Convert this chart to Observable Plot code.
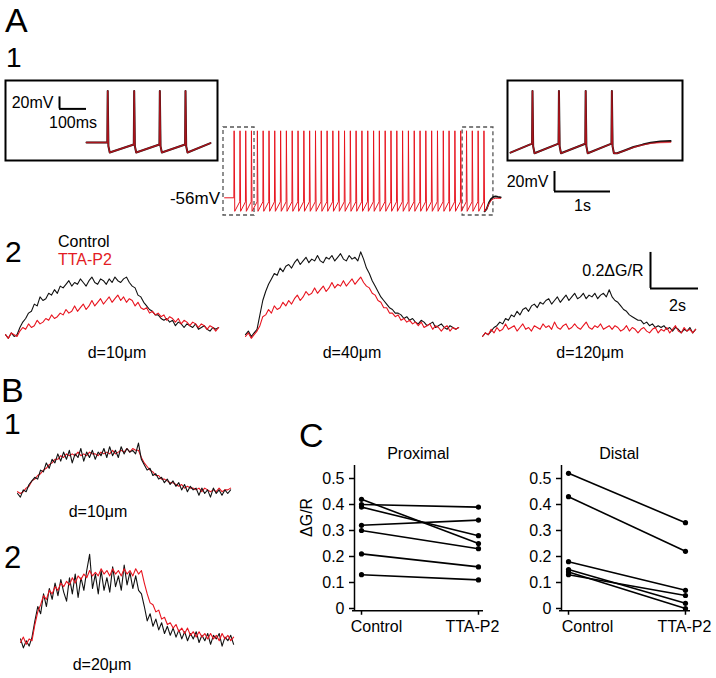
<!DOCTYPE html>
<html><head><meta charset="utf-8">
<script src="https://cdn.jsdelivr.net/npm/d3@7"></script>
<script src="https://cdn.jsdelivr.net/npm/@observablehq/plot@0.6"></script>
<style>
body{margin:0;background:#fff;}
#fig{position:relative;width:716px;height:678px;overflow:hidden;background:#fff;font-family:"Liberation Sans",Arial,sans-serif;}
</style></head><body><div id="fig"></div>
<script>
// ---------------- DATA ----------------
// A1 main spike train (time in s, voltage in mV)
const mainSpikeTimes = [0.185,0.290,0.392,0.494,0.600,0.703,0.808,0.910,1.015,1.118,1.222,1.326,1.430,1.533,1.638,1.741,1.845,1.948,2.052,2.156,2.260,2.363,2.467,2.571,2.675,2.778,2.882,2.986,3.090,3.193,3.297,3.401,3.505,3.608,3.712,3.816,3.920,4.023,4.127,4.231,4.335,4.438,4.542,4.646];
const mainRestMV = -56, mainPreMV = -60, mainPeakMV = 11, mainTroughMV = -69.5;
const mainTailTimes = [4.70,4.74,4.78,4.82,4.86,4.90,4.95];
const mainTailRed   = [-67,-62,-58.5,-57,-56.5,-56.5,-56.5];
const mainTailBlack = [-67,-61,-57,-55,-54.5,-55,-55.5];
const zoomWindowStart = [0, 4.27];
const zoomWindowEnd   = [0.554, 4.82];
const zoomWindowMV    = [-73.7, 14.3];
const mainScaleBar = {mV: 20, s: 1};

// A1 insets (time in ms, voltage in mV)
const leftInsetSpikes = [77,175,270,365];
const leftInsetRest = -56, leftInsetPre = -59.4, insetPeak = 30, leftInsetTrough = -72.7;
const leftInsetEnd = {t: 459, v: -57};
const rightInsetSpikes = [80,178,277,374];
const rightInsetStart = -73, rightInsetPre = -58, rightInsetTrough = -74;
const rightTailTimes = [395,425,456,490,519,555,593];
const rightTailRed   = [-74,-69,-64,-60,-57.5,-56,-55.5];
const rightTailBlack = [-74,-69,-63.5,-59.5,-56.5,-54.5,-53.5];
const insetScaleBar = {ms: 100, mV: 20};

// A2 Ca2+ transients (ΔG/R), sampled every 0.12 s
const sampleDt = 0.12;
const d10Control = [0.01,-0.01,0.02,0.00,0.01, 0.05,0.08,0.10,0.13,0.14, 0.18,0.17,0.22,0.20,0.21, 0.24,0.23,0.26,0.24,0.28, 0.27,0.29,0.31,0.28,0.30, 0.29,0.32,0.30,0.28,0.31, 0.33,0.30,0.29,0.32,0.31, 0.29,0.32,0.30,0.33,0.31, 0.30,0.32,0.33,0.30,0.28, 0.27,0.23,0.22,0.19,0.17, 0.15,0.14,0.12,0.12,0.10, 0.09,0.10,0.08,0.09,0.06, 0.08,0.07,0.05,0.07,0.06, 0.05,0.07,0.04,0.05,0.06, 0.04,0.03,0.05,0.04,0.05];
const d10TTA = [0.01,-0.01,0.02,0.01,0.00, 0.03,0.05,0.04,0.07,0.05, 0.06,0.09,0.07,0.08,0.10, 0.09,0.12,0.10,0.11,0.13, 0.12,0.15,0.13,0.14,0.17, 0.14,0.16,0.18,0.15,0.17, 0.20,0.17,0.19,0.21,0.18, 0.20,0.22,0.19,0.21,0.23, 0.20,0.22,0.19,0.21,0.20, 0.17,0.19,0.16,0.15,0.16, 0.13,0.14,0.12,0.13,0.11, 0.12,0.09,0.11,0.10,0.08, 0.10,0.07,0.09,0.08,0.06, 0.08,0.07,0.05,0.07,0.06, 0.04,0.06,0.05,0.03,0.05];
const d40Control = [0.01,0.03,0.00,0.02,0.04, 0.12,0.20,0.25,0.29,0.32, 0.35,0.34,0.38,0.36,0.39, 0.40,0.38,0.41,0.43,0.40, 0.42,0.44,0.41,0.43,0.42, 0.45,0.42,0.41,0.44,0.43, 0.45,0.42,0.44,0.46,0.43, 0.42,0.45,0.43,0.44,0.42, 0.47,0.43,0.38,0.35,0.31, 0.28,0.25,0.22,0.20,0.18, 0.16,0.15,0.13,0.13,0.12, 0.10,0.11,0.09,0.10,0.08, 0.07,0.09,0.08,0.06,0.07, 0.08,0.05,0.06,0.07,0.05, 0.04,0.06,0.05,0.04,0.05];
const d40TTA = [0.00,0.02,-0.01,0.01,0.03, 0.06,0.11,0.12,0.15,0.13, 0.17,0.15,0.16,0.19,0.17, 0.20,0.18,0.21,0.23,0.20, 0.22,0.25,0.23,0.24,0.27, 0.24,0.26,0.28,0.25,0.27, 0.30,0.27,0.29,0.28,0.31, 0.28,0.30,0.32,0.29,0.31, 0.33,0.30,0.28,0.27,0.24, 0.23,0.20,0.19,0.16,0.16, 0.13,0.13,0.11,0.12,0.09, 0.10,0.08,0.09,0.07,0.08, 0.06,0.08,0.05,0.06,0.07, 0.04,0.06,0.05,0.03,0.05, 0.06,0.03,0.05,0.04,0.05];
const d120Control = [0.00,0.02,0.01,0.03,0.05, 0.06,0.08,0.07,0.10,0.09, 0.12,0.11,0.14,0.12,0.15, 0.16,0.14,0.17,0.18,0.16, 0.19,0.18,0.20,0.21,0.18, 0.20,0.22,0.19,0.21,0.23, 0.20,0.22,0.24,0.21,0.22, 0.24,0.21,0.23,0.22,0.24, 0.21,0.23,0.24,0.22,0.26, 0.22,0.20,0.19,0.17,0.15, 0.14,0.12,0.11,0.10,0.09, 0.09,0.07,0.08,0.06,0.07, 0.05,0.06,0.05,0.06,0.04, 0.05,0.03,0.05,0.04,0.02, 0.04,0.03,0.05,0.02,0.04];
const d120TTA = [0.00,0.02,0.01,0.04,0.02, 0.05,0.03,0.04,0.07,0.04, 0.05,0.06,0.03,0.05,0.07, 0.04,0.05,0.03,0.06,0.05, 0.04,0.07,0.05,0.06,0.04, 0.08,0.05,0.04,0.06,0.07, 0.04,0.05,0.07,0.05,0.04, 0.06,0.08,0.05,0.04,0.06, 0.05,0.07,0.04,0.05,0.06, 0.04,0.06,0.05,0.03,0.04, 0.06,0.03,0.05,0.04,0.02, 0.04,0.05,0.03,0.02,0.04, 0.05,0.02,0.04,0.03,0.05, 0.02,0.04,0.06,0.03,0.02, 0.05,0.03,0.04,0.02,0.04];
const a2ScaleBar = {dGR: 0.2, s: 2};

// B traces (ΔG/R)
const b10Control = [0.00,-0.02,0.02,0.01,0.05, 0.07,0.09,0.08,0.13,0.12, 0.17,0.14,0.19,0.17,0.22, 0.18,0.23,0.19,0.24,0.17, 0.22,0.20,0.25,0.18,0.23, 0.20,0.24,0.19,0.23,0.21, 0.25,0.20,0.26,0.21,0.24, 0.20,0.26,0.22,0.25,0.23, 0.24,0.22,0.28,0.19,0.16, 0.13,0.14,0.10,0.11,0.08, 0.09,0.06,0.08,0.05,0.07, 0.04,0.06,0.02,0.05,0.01, 0.04,0.02,0.03,-0.01,0.03, 0.00,0.02,-0.02,0.03,0.00, 0.02,-0.01,0.02,0.00,0.02];
const b10TTA = [0.01,0.00,0.01,0.03,0.04, 0.07,0.08,0.10,0.11,0.13, 0.14,0.16,0.17,0.19,0.19, 0.21,0.20,0.22,0.21,0.22, 0.21,0.23,0.21,0.22,0.21, 0.23,0.22,0.22,0.21,0.23, 0.22,0.23,0.22,0.24,0.22, 0.23,0.24,0.23,0.25,0.23, 0.25,0.24,0.24,0.20,0.17, 0.15,0.13,0.12,0.10,0.10, 0.08,0.08,0.07,0.06,0.06, 0.05,0.04,0.05,0.03,0.04, 0.03,0.03,0.02,0.03,0.01, 0.03,0.02,0.01,0.02,0.01, 0.03,0.01,0.02,0.02,0.03];
const b20Control = [0.02,-0.03,0.01,-0.02,0.03, 0.12,0.20,0.16,0.27,0.20, 0.30,0.24,0.33,0.26,0.35, 0.28,0.23,0.36,0.27,0.38, 0.25,0.36,0.29,0.40,0.49, 0.30,0.38,0.27,0.40,0.29, 0.36,0.28,0.42,0.31,0.37, 0.29,0.43,0.32,0.39,0.30, 0.37,0.29,0.27,0.20,0.12, 0.16,0.09,0.13,0.07,0.11, 0.05,0.09,0.04,0.08,0.03, 0.07,0.02,0.06,0.01,0.05, 0.02,0.06,0.00,0.04,0.01, 0.05,-0.01,0.04,0.02,0.05, -0.02,0.03,0.01,0.04,-0.01];
const b20TTA = [0.00,0.03,-0.01,0.02,0.01, 0.10,0.17,0.21,0.26,0.24, 0.29,0.27,0.31,0.29,0.33, 0.31,0.34,0.32,0.36,0.33, 0.37,0.35,0.38,0.36,0.40, 0.37,0.39,0.37,0.41,0.38, 0.40,0.37,0.41,0.38,0.40, 0.37,0.41,0.38,0.40,0.37, 0.41,0.38,0.40,0.33,0.27, 0.22,0.21,0.17,0.18,0.13, 0.14,0.10,0.11,0.08,0.10, 0.06,0.08,0.05,0.08,0.04, 0.06,0.03,0.06,0.03,0.05, 0.02,0.05,0.02,0.04,0.01, 0.05,0.02,0.04,0.01,0.03];

// C paired values (ΔG/R)
const cGroups = ["Control", "TTA-P2"];
const proximalControl = [0.42,0.40,0.39,0.32,0.30,0.21,0.13];
const proximalTTA     = [0.25,0.39,0.28,0.34,0.23,0.16,0.11];
const distalControl   = [0.52,0.43,0.18,0.15,0.14,0.13];
const distalTTA       = [0.33,0.22,0.07,0.02,0.00,0.05];
const cTicks = [0,0.1,0.2,0.3,0.4,0.5];
const cTickLabels = ["0","0.1","0.2","0.3","0.4","0.5"];

// ---------------- DRAWING ----------------
const RED = "#e8141f";
const FONT = "'Liberation Sans', Arial, Helvetica, sans-serif";
const style = {background:"none", overflow:"visible", fontFamily:FONT, fontSize:"16px", color:"#000"};
const fig = document.getElementById("fig");
function place(el, left, top){
  el.style.position = "absolute"; el.style.left = left+"px"; el.style.top = top+"px";
  el.style.overflow = "visible"; el.style.maxWidth = "none";
  fig.appendChild(el);
}
const sampled = vals => vals.map((v,i)=>({t:i*sampleDt, v}));

function spikeTrace(start, spikes, firstPre, pre, peak, trough, shape, tail){
  const pts = [start];
  spikes.forEach((s,k)=>{
    pts.push({t:s, v: k===0 ? firstPre : pre});
    pts.push({t:s+shape.rise, v:peak});
    if (shape.mid) pts.push({t:s+shape.mid[0], v:shape.mid[1]});
    pts.push({t:s+shape.fall, v:trough});
  });
  return pts.concat(tail);
}
function scaleBarMarks(t0, v0, dt, dv, vText, tText, tDx, tDy, vDx){
  return [
    Plot.ruleX([t0], {y1:v0, y2:v0+dv, stroke:"#000", strokeWidth:2}),
    Plot.ruleY([v0], {x1:t0, x2:t0+dt, stroke:"#000", strokeWidth:2}),
    Plot.text([vText], {x:t0, y:v0+dv/2, dx:vDx, text:d=>d, textAnchor:"end", fontSize:16, fill:"#000"}),
    Plot.text([tText], {x:t0+dt/2, y:v0, dx:tDx, dy:tDy, text:d=>d, fontSize:16, fill:"#000"})
  ];
}

// --- A1 main train (red on top; the black control trace only departs from it at the end)
const mainShape = {rise:0.005, fall:0.016};
const mainRed = spikeTrace({t:0.02, v:mainRestMV}, mainSpikeTimes, mainRestMV, mainPreMV, mainPeakMV, mainTroughMV, mainShape,
  mainTailTimes.map((t,i)=>({t, v:mainTailRed[i]})));
const lastSpike = mainSpikeTimes[mainSpikeTimes.length-1];
const mainBlackTail = [{t:lastSpike+mainShape.fall, v:mainTroughMV}].concat(mainTailTimes.map((t,i)=>({t, v:mainTailBlack[i]})));
const windows = zoomWindowStart.map((t1,i)=>({t1, t2:zoomWindowEnd[i]}));
place(Plot.plot({
  width:280, height:95, margin:0,
  x:{domain:[0,5], axis:null}, y:{domain:[-78.7,16.3], axis:null}, style,
  marks:[
    Plot.rect(windows, {x1:"t1", x2:"t2", y1:zoomWindowMV[0], y2:zoomWindowMV[1], fill:"none", stroke:"#555", strokeWidth:1.3, strokeDasharray:"4,3"}),
    Plot.line(mainBlackTail, {x:"t", y:"v", stroke:"#111", strokeWidth:1.8}),
    Plot.line(mainRed, {x:"t", y:"v", stroke:RED, strokeWidth:1})
  ]
}), 223, 125);

// main scale bar (20 mV, 1 s) with same units per pixel as main train
place(Plot.plot({
  width:56, height:20, margin:0,
  x:{domain:[0,1], axis:null}, y:{domain:[0,20], axis:null}, style,
  marks: scaleBarMarks(0, 0, mainScaleBar.s, mainScaleBar.mV, "20mV", "1s", 0, 14.5, -6)
}), 554, 171);

// --- A1 insets
const insetShape = {rise:1.5, mid:[4,-62], fall:9};
const leftInset = spikeTrace({t:0, v:leftInsetRest}, leftInsetSpikes, leftInsetRest, leftInsetPre, insetPeak, leftInsetTrough, insetShape, [leftInsetEnd]);
place(Plot.plot({
  width:212, height:80, margin:0,
  x:{domain:[-300,485], axis:null}, y:{domain:[-86,47.3], axis:null}, style,
  marks:[
    Plot.frame({stroke:"#000", strokeWidth:2}),
    Plot.line(leftInset, {x:"t", y:"v", stroke:"#111", strokeWidth:2}),
    Plot.line(leftInset, {x:"t", y:"v", stroke:RED, strokeOpacity:0.7, strokeWidth:1.4}),
    ...scaleBarMarks(-insetScaleBar.ms, 0, insetScaleBar.ms, insetScaleBar.mV, "20mV", "100ms", 0, 14, -6)
  ]
}), 5, 80);

const rightRed = spikeTrace({t:0, v:rightInsetStart}, rightInsetSpikes, rightInsetPre, rightInsetPre, insetPeak, rightInsetTrough, insetShape,
  rightTailTimes.map((t,i)=>({t, v:rightTailRed[i]})));
const rightBlack = spikeTrace({t:0, v:rightInsetStart}, rightInsetSpikes, rightInsetPre, rightInsetPre, insetPeak, rightInsetTrough, insetShape,
  rightTailTimes.map((t,i)=>({t, v:rightTailBlack[i]})));
place(Plot.plot({
  width:175, height:80, margin:0,
  x:{domain:[-11,637], axis:null}, y:{domain:[-86,47.3], axis:null}, style,
  marks:[
    Plot.frame({stroke:"#000", strokeWidth:2}),
    Plot.line(rightBlack, {x:"t", y:"v", stroke:"#111", strokeWidth:2}),
    Plot.line(rightRed, {x:"t", y:"v", stroke:RED, strokeOpacity:0.7, strokeWidth:1.4})
  ]
}), 507, 80);

// --- A2 transients
function transient(black, red, h, yDomain, redOnTop, extra){
  const b = Plot.line(sampled(black), {x:"t", y:"v", stroke:"#111", strokeWidth:1.1});
  const r = Plot.line(sampled(red), {x:"t", y:"v", stroke:RED, strokeWidth:1.1});
  return Plot.plot({
    width:220, height:h, margin:0,
    x:{domain:[0,220/24], axis:null}, y:{domain:yDomain, axis:null}, style,
    marks:[...(redOnTop ? [b, r] : [r, b]), ...(extra || [])]
  });
}
const a2Y = [-0.0222, 0.5333];
place(transient(d10Control, d10TTA, 100, a2Y, true), 5, 240);
place(transient(d40Control, d40TTA, 100, a2Y, true), 245, 240);
place(transient(d120Control, d120TTA, 100, a2Y, true,
  scaleBarMarks(7, 0.267, a2ScaleBar.s, a2ScaleBar.dGR, "0.2ΔG/R", "2s", 3, 17, -7)), 482, 240);

// --- B transients
place(transient(b10Control, b10TTA, 80, [-0.0389, 0.4056], false), 17, 420);
place(transient(b20Control, b20TTA, 110, [-0.0444, 0.5667], true), 20, 540);

// --- C paired plots
function slopePlot(ctrl, tta, title, titleX, ctrlDx, ttaDx, withLabel){
  const rows = ctrl.map((c,i)=>({c, t:tta[i]}));
  return Plot.plot({
    width:200, height:200, marginLeft:54, marginRight:17, marginTop:25, marginBottom:32,
    x:{domain:[-0.06,1.043], axis:null}, y:{domain:[0,0.55], axis:null}, style,
    marks:[
      Plot.ruleX([-0.06], {y1:-0.009, y2:0.55, stroke:"#000", strokeWidth:1.5}),
      Plot.ruleY([-0.009], {x1:-0.077, x2:1.043, stroke:"#000", strokeWidth:1.5}),
      Plot.axisY({ticks:cTicks, tickFormat:d=>cTickLabels[cTicks.indexOf(d)], tickSize:5, tickPadding:5, fontSize:16, label:null, strokeWidth:1.5}),
      Plot.ruleX([0,1], {y1:-0.009, y2:-0.026, stroke:"#000", strokeWidth:1.5}),
      Plot.text([cGroups[0]], {x:0, y:-0.009, dx:ctrlDx, dy:16.5, text:d=>d, fontSize:16, fill:"#000"}),
      Plot.text([cGroups[1]], {x:1, y:-0.009, dx:ttaDx, dy:16.5, text:d=>d, fontSize:16, fill:"#000"}),
      Plot.link(rows, {x1:0, x2:1, y1:"c", y2:"t", stroke:"#000", strokeWidth:1.6}),
      Plot.dot(rows, {x:0, y:"c", r:2.6, fill:"#000"}),
      Plot.dot(rows, {x:1, y:"t", r:2.6, fill:"#000"}),
      Plot.text([title], {x:titleX, y:0.55, dy:-12, text:d=>d, fontSize:16, fill:"#000"}),
      ...(withLabel ? [Plot.text(["ΔG/R"], {frameAnchor:"left", dx:-48, rotate:-90, text:d=>d, fontSize:16, fill:"#000"})] : [])
    ]
  });
}
place(slopePlot(proximalControl, proximalTTA, "Proximal", 0.485, 15, -6, true), 300, 440);
place(slopePlot(distalControl, distalTTA, "Distal", 0.433, 19, -1, false), 507, 440);

// --- panel labels and annotations
const labels = [
  {s:"A", x:5, y:32, f:34}, {s:"1", x:6, y:67, f:28}, {s:"2", x:5, y:262, f:30},
  {s:"B", x:1, y:402, f:34}, {s:"1", x:4, y:434, f:30}, {s:"2", x:4, y:568, f:31},
  {s:"C", x:299, y:447, f:34},
  {s:"Control", x:58, y:247, f:16}, {s:"TTA-P2", x:58, y:265, f:16, c:"#e31b23"},
  {s:"-56mV", x:220, y:204, f:17, a:"end"},
  {s:"d=10μm", x:117, y:358, f:16, a:"middle"}, {s:"d=40μm", x:352, y:358, f:16, a:"middle"},
  {s:"d=120μm", x:590, y:358, f:16, a:"middle"},
  {s:"d=10μm", x:98, y:517, f:16, a:"middle"}, {s:"d=20μm", x:102, y:670, f:16, a:"middle"}
];
const ov = d3.create("svg").attr("width",716).attr("height",678)
  .style("position","absolute").style("left","0px").style("top","0px").style("pointer-events","none");
ov.selectAll("text").data(labels).join("text")
  .attr("x", d=>d.x).attr("y", d=>d.y).attr("font-size", d=>d.f)
  .attr("font-family", FONT).attr("fill", d=>d.c || "#000")
  .attr("text-anchor", d=>d.a || "start").text(d=>d.s);
fig.appendChild(ov.node());
</script></body></html>
